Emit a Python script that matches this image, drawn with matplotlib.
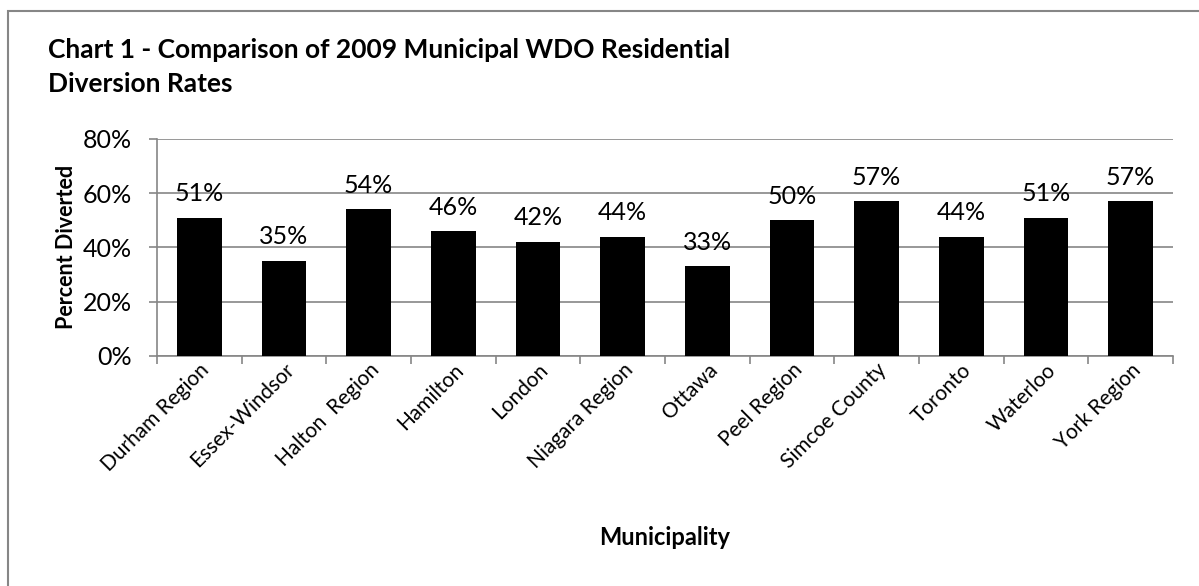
import matplotlib.pyplot as plt
import matplotlib.patches as patches
import numpy as np

# === DATA ===
MUNICIPALITIES = ["Durham Region", "Essex-Windsor", "Halton  Region", "Hamilton", "London",
                  "Niagara Region", "Ottawa", "Peel Region", "Simcoe County", "Toronto",
                  "Waterloo", "York Region"]
DIVERTED = [51, 35, 54, 46, 42, 44, 33, 50, 57, 44, 51, 57]
Y_TICKS = [0, 20, 40, 60, 80]

TITLE = "Chart 1 - Comparison of 2009 Municipal WDO Residential\nDiversion Rates"
GRID = "#868686"

plt.rcParams['font.family'] = ['Lato', 'DejaVu Sans']

fig = plt.figure(figsize=(11.99, 5.86), dpi=100)
ax = fig.add_axes([0.1309, 0.393, 0.8474, 0.3698])

x = np.arange(len(MUNICIPALITIES))
ax.bar(x, DIVERTED, width=0.53, color="black", zorder=3)

for xi, v in zip(x, DIVERTED):
    ax.annotate(f"{v}%", (xi, v), xytext=(0, 9), textcoords="offset points",
                ha="center", va="bottom", fontsize=18, color="black")

ax.set_xlim(-0.5, len(MUNICIPALITIES) - 0.5)
ax.set_ylim(0, 80)
ax.set_yticks(Y_TICKS)
ax.set_yticklabels([f"{t}%" for t in Y_TICKS], fontsize=18)
ax.yaxis.grid(True, color=GRID, linewidth=1.2, zorder=0)

ax.set_xticks(x)
ax.set_xticklabels(MUNICIPALITIES, rotation=45, ha="right", rotation_mode="anchor", fontsize=15)
ax.set_xticks(np.arange(-0.5, len(MUNICIPALITIES)), minor=True)
ax.tick_params(axis="x", which="major", length=0, pad=3)
ax.tick_params(axis="x", which="minor", length=6, color=GRID, width=1.2)
ax.tick_params(axis="y", length=6, color=GRID, width=1.2, pad=12)

for s in ["top", "right"]:
    ax.spines[s].set_visible(False)
for s in ["left", "bottom"]:
    ax.spines[s].set_color(GRID)
    ax.spines[s].set_linewidth(1.2)

ax.set_ylabel("Percent Diverted", fontsize=15.5, fontweight="bold")
ax.yaxis.set_label_coords(-0.0787, 0.5)
ax.set_xlabel("Municipality", fontsize=17, fontweight="bold")
ax.xaxis.set_label_coords(0.5, -0.785)

fig.text(48 / 1199, 1 - 38 / 586, TITLE, fontsize=19, fontweight="bold",
         ha="left", va="top", linespacing=1.5)

# outer chart border (runs off the right and bottom edges)
fig.patches.append(patches.Rectangle((8 / 1199, -0.05), 1.1, 1.05 - 11 / 586,
                                     transform=fig.transFigure, fill=False,
                                     edgecolor=GRID, linewidth=1.5))

fig.savefig("out.png", dpi=100)
